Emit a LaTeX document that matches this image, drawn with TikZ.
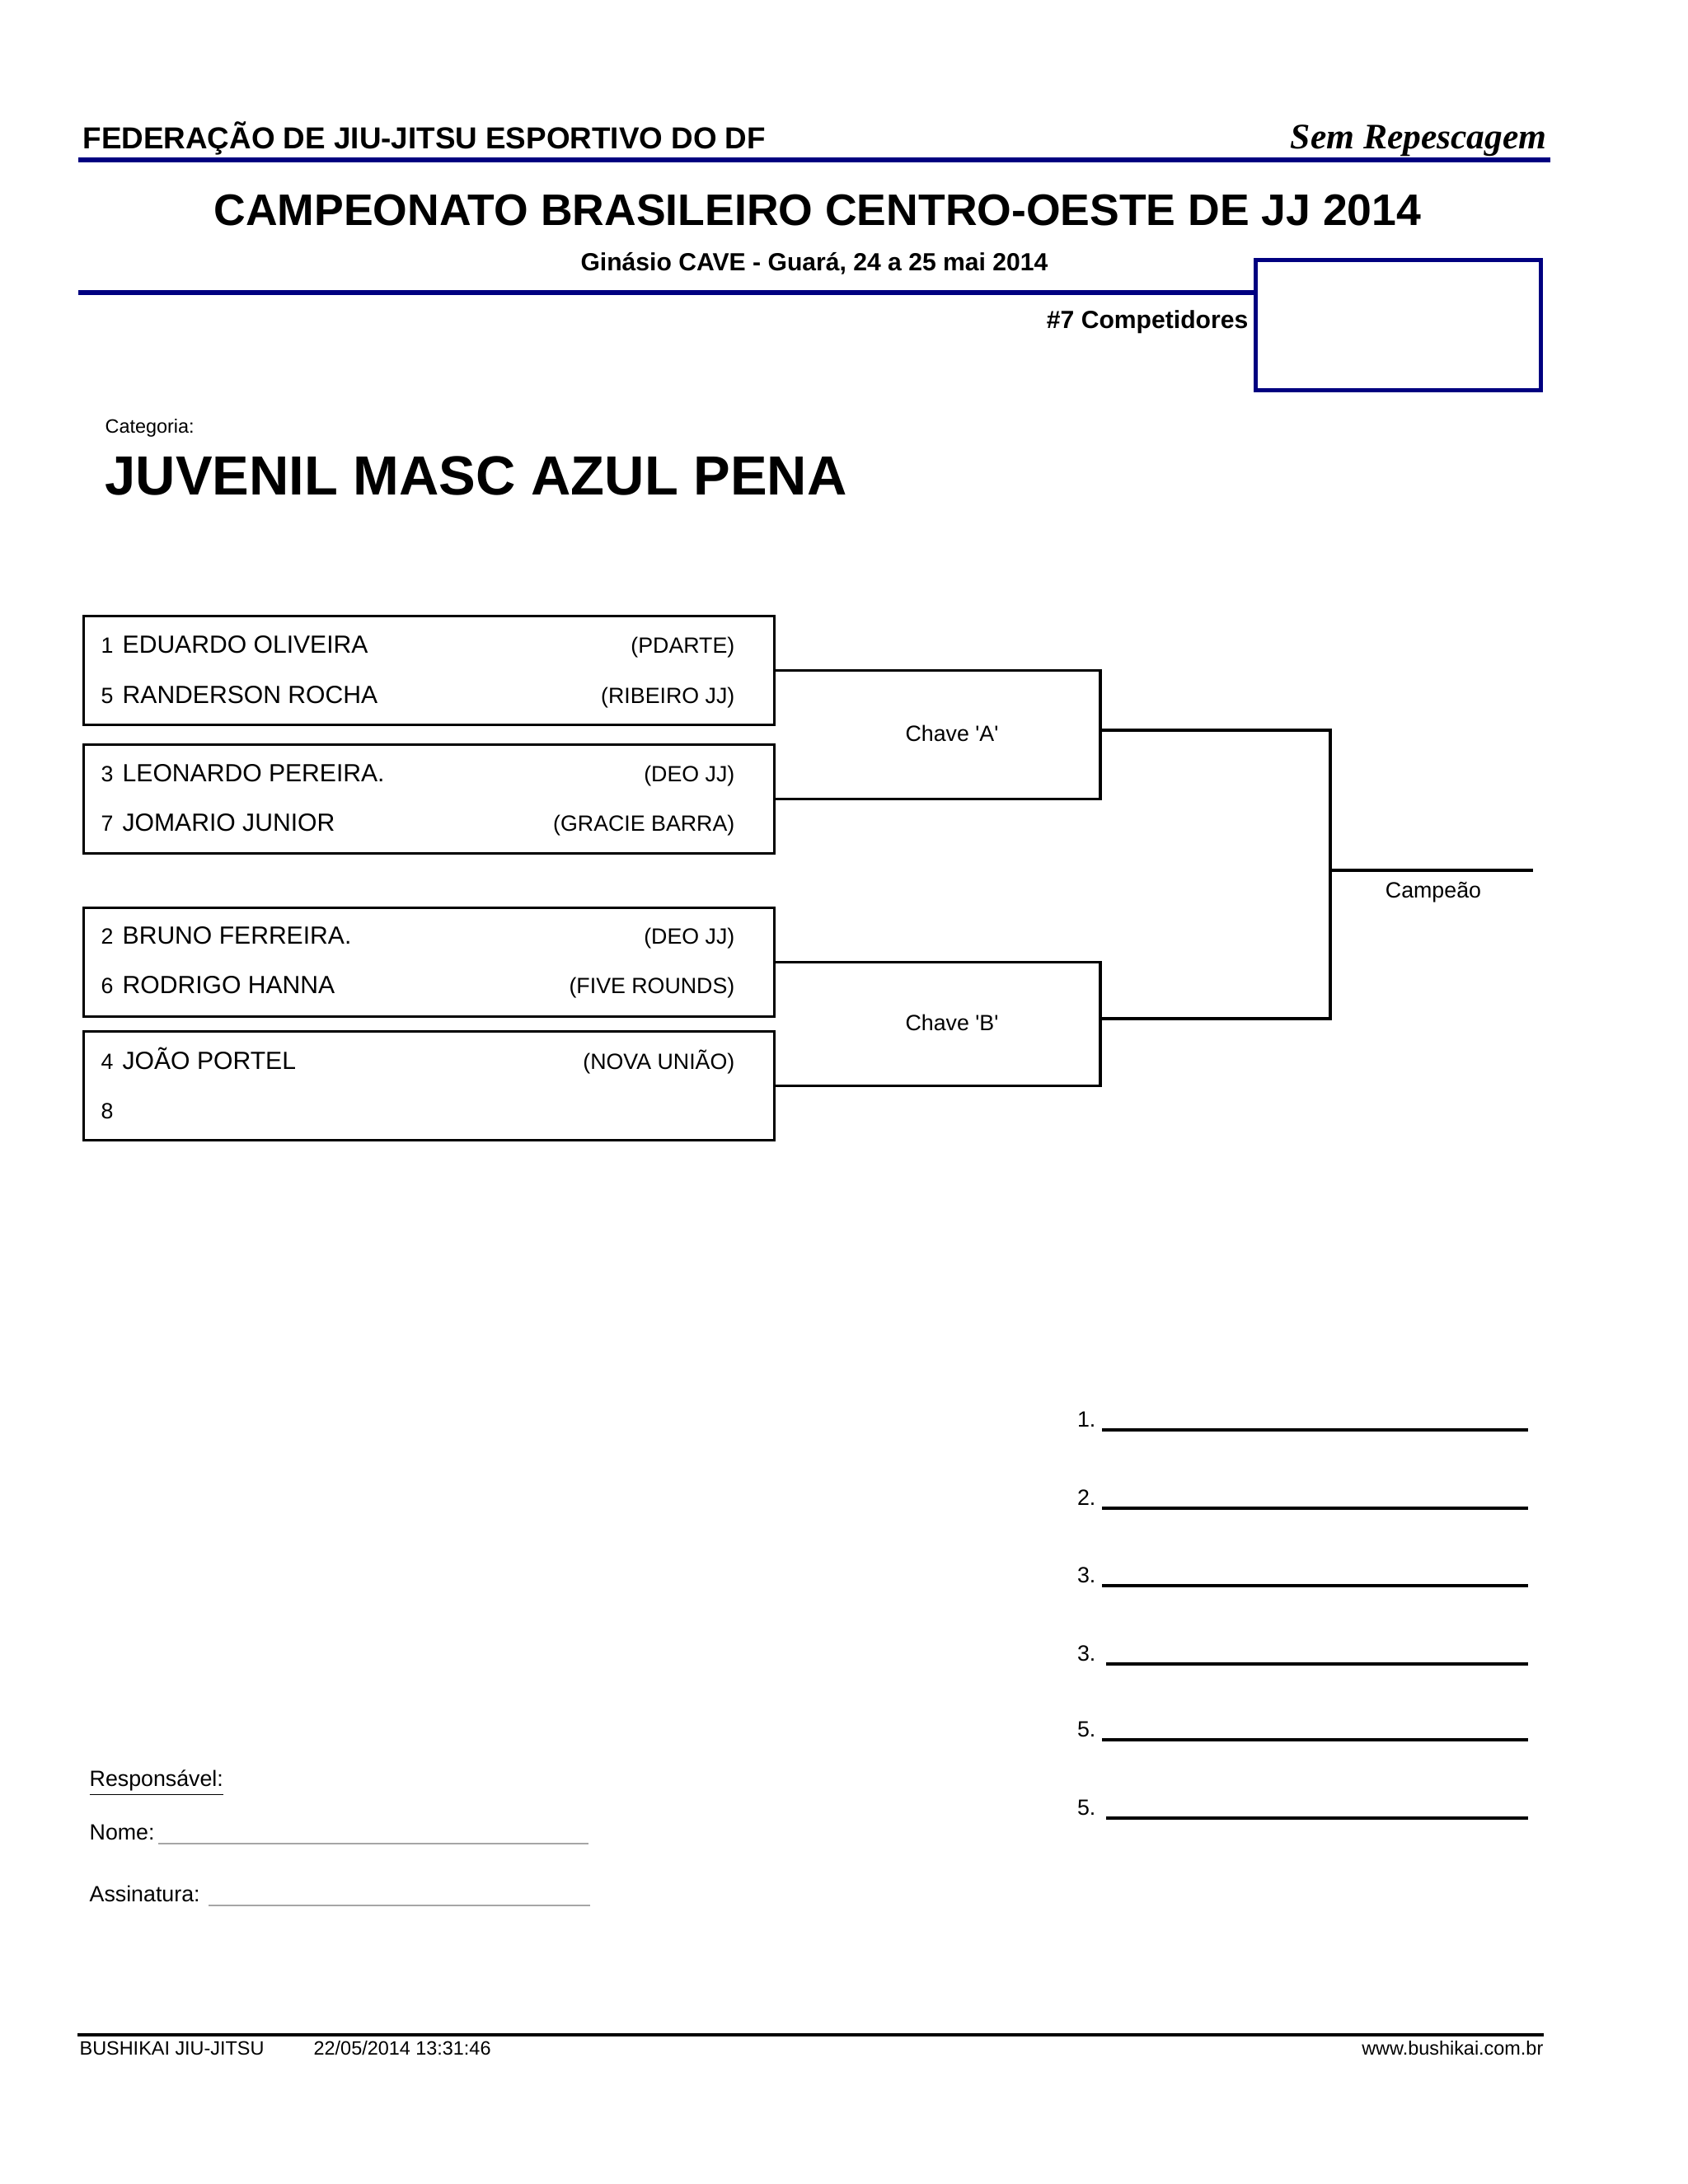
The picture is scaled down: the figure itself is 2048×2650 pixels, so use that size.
\documentclass[tikz,border=0pt]{standalone}
\usepackage{fontspec}
\setsansfont{Liberation Sans}
\newfontfamily\calfont{Liberation Serif}
\renewcommand{\familydefault}{\sfdefault}
\usepackage{xcolor}
\usepackage{tikz}
\usetikzlibrary{positioning, calc}

\definecolor{fedblue}{RGB}{0,0,128}

\begin{document}
\begin{tikzpicture}[
    x=0.29883pt, y=-0.29883pt,
    every node/.style={inner sep=0pt},
    blueline/.style={draw=fedblue, line width=1.6pt},
    entrybox/.style={draw, rectangle, line width=1pt, minimum width=250.4pt, minimum height=39.4pt, anchor=north west},
    wire/.style={line width=1pt},
    seed/.style={anchor=base west, font=\fontsize{8}{10}\selectfont},
    fighter/.style={anchor=base west, font=\fontsize{9}{11}\selectfont},
    club/.style={anchor=base east, font=\fontsize{8}{10}\selectfont},
    small/.style={font=\fontsize{8}{10}\selectfont},
    foot/.style={font=\fontsize{7}{9}\selectfont},
    podium/.style={line width=1.1pt},
    signline/.style={draw=gray!70, line width=0.5pt}
]
\useasboundingbox (0,0) rectangle (2048,2650);

% header
\node[anchor=base west, font=\fontsize{11}{13}\selectfont\bfseries] (fed) at (100,180) {FEDERAÇÃO DE JIU-JITSU ESPORTIVO DO DF};
\node[anchor=base east, font=\fontsize{13}{15}\selectfont\calfont\bfseries\itshape] (repesc) at (1877,180) {Sem Repescagem};
\draw[blueline] (95,194) -- (1881,194);

\node[anchor=base, font=\fontsize{16}{19}\selectfont\bfseries] (title) at (992,273) {CAMPEONATO BRASILEIRO CENTRO-OESTE DE JJ 2014};
\node[anchor=base, font=\fontsize{9}{11}\selectfont\bfseries] (venue) at (988,328) {Ginásio CAVE - Guará, 24 a 25 mai 2014};

\node[draw=fedblue, line width=1.5pt, minimum width=103.4pt, minimum height=47.2pt, anchor=north west] (stamp) at (1521,313) {};
\coordinate (rule2) at (95,355);
\draw[blueline] (rule2) -- (rule2 -| stamp.west);
\node[anchor=base east, font=\fontsize{9}{11}\selectfont\bfseries] (count) at (1515,398) {\#7 Competidores};

% category
\node[anchor=base west, font=\fontsize{7}{9}\selectfont] (catlabel) at (127,525) {Categoria:};
\node[anchor=base west, font=\fontsize{20}{24}\selectfont\bfseries] (category) at (127,600) {JUVENIL MASC AZUL PENA};

% entry boxes
\node[entrybox] (b1) at (100,746) {};
\node[entrybox] (b2) at (100,902) {};
\node[entrybox] (b3) at (100,1100) {};
\node[entrybox] (b4) at (100,1250) {};

\foreach \y/\s/\who/\team [count=\i] in {792/1/{EDUARDO OLIVEIRA}/{(PDARTE)}, 853/5/{RANDERSON ROCHA}/{(RIBEIRO JJ)},
    948/3/{LEONARDO PEREIRA.}/{(DEO JJ)}, 1008/7/{JOMARIO JUNIOR}/{(GRACIE BARRA)},
    1145/2/{BRUNO FERREIRA.}/{(DEO JJ)}, 1205/6/{RODRIGO HANNA}/{(FIVE ROUNDS)},
    1297/4/{JOÃO PORTEL}/{(NOVA UNIÃO)}, 1357/8/{}/{}} {
  \node[seed] (seed\i) at (122,\y) {\s};
  \node[fighter] (fighter\i) at (148,\y) {\who};
  \node[club] (club\i) at (892,\y) {\team};
}

% bracket
\coordinate (qa) at (1335,886);
\coordinate (qb) at (1335,1236);
\coordinate (fin) at (1614,1056);
\coordinate (champ) at (1860,1056);
\draw[wire] (b1.east) -| (qa) |- (b2.east);
\draw[wire] (b3.east) -| (qb) |- (b4.east);
\draw[wire] (qa) -| (fin) |- (qb);
\draw[wire] (fin) -- (champ);

\node[small, anchor=base] (keyA) at (1155,899) {Chave \textquotesingle A\textquotesingle};
\node[small, anchor=base] (keyB) at (1155,1250) {Chave \textquotesingle B\textquotesingle};
\node[small, anchor=base] (champlabel) at (1739,1089) {Campeão};

% podium
\foreach \y/\p/\x [count=\i] in {1735/1/1337, 1830/2/1337, 1924/3/1337, 2019/3/1342, 2111/5/1337, 2206/5/1342} {
  \node[small, anchor=base east] (place\i) at (1330,\y-4) {\p.};
  \coordinate (slot\i) at (1854,\y);
  \draw[podium] (\x,\y) -- (slot\i);
}

% signature
\node[small, anchor=base west] (resp) at (108,2167) {\underline{Responsável:}};
\node[small, anchor=base west] (nome) at (108,2232) {Nome:};
\draw[signline] (192,2237) -- (714,2237);
\node[small, anchor=base west] (sign) at (108,2307) {Assinatura:};
\draw[signline] (253,2312) -- (716,2312);

% footer
\draw[line width=1pt] (94,2469) -- (1873,2469);
\node[foot, anchor=base west] (brand) at (96,2493) {BUSHIKAI JIU-JITSU};
\node[foot, anchor=base west] (printed) at (380,2493) {22/05/2014 13:31:46};
\node[foot, anchor=base east] (site) at (1873,2493) {www.bushikai.com.br};

\end{tikzpicture}
\end{document}
